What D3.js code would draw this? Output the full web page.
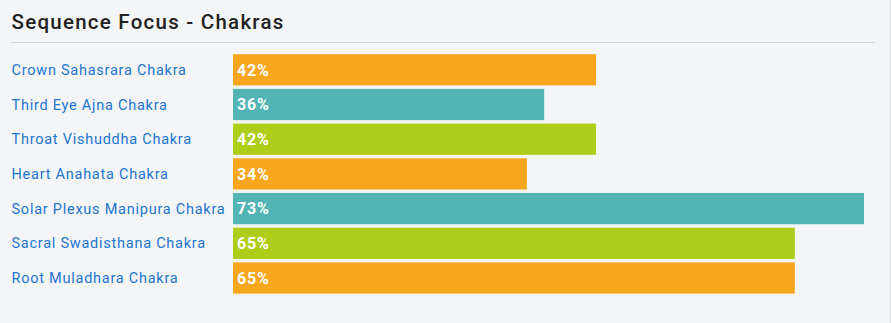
<!DOCTYPE html>
<html>
<head>
<meta charset="utf-8">
<script src="https://cdn.jsdelivr.net/npm/d3@7"></script>
<style>
  body { margin: 0; background: #f4f5f7; }
  svg { display: block; font-family: Roboto, "Open Sans", sans-serif; }
</style>
</head>
<body>
<div id="chart"></div>
<script>
// Chart data
const chakras = [
  'Crown Sahasrara Chakra',
  'Third Eye Ajna Chakra',
  'Throat Vishuddha Chakra',
  'Heart Anahata Chakra',
  'Solar Plexus Manipura Chakra',
  'Sacral Swadisthana Chakra',
  'Root Muladhara Chakra'
];
const percents = [42, 36, 42, 34, 73, 65, 65];
const barColors = ['#f9a61f', '#53b4b6', '#aecd19'];

const width = 891, height = 323;
const barLeft = 233, barRight = 864;

const svg = d3.select('#chart').append('svg')
  .attr('width', width)
  .attr('height', height);

// background + right border
svg.append('rect').attr('width', width).attr('height', height).attr('fill', '#f4f5f7');
svg.append('line')
  .attr('x1', 890.5).attr('x2', 890.5).attr('y1', 0).attr('y2', height)
  .attr('stroke', '#d6d8dc');

// title
svg.append('text')
  .attr('x', 11.5).attr('y', 29)
  .attr('font-size', 20.5).attr('font-weight', 500)
  .attr('fill', '#222')
  .style('letter-spacing', '1.25px')
  .text('Sequence Focus - Chakras');

svg.append('line')
  .attr('x1', 11).attr('x2', 875).attr('y1', 42.5).attr('y2', 42.5)
  .attr('stroke', '#d3d4d6');

const x = d3.scaleLinear()
  .domain([0, d3.max(percents)])
  .range([barLeft, barRight]);

const y = d3.scaleBand()
  .domain(chakras)
  .range([50.7, 297.1])
  .padding(0.1);

const rows = svg.selectAll('g.row')
  .data(chakras.map((c, i) => ({ name: c, value: percents[i], i })))
  .enter().append('g').attr('class', 'row');

rows.append('rect')
  .attr('x', x(0))
  .attr('y', d => y(d.name))
  .attr('width', d => x(d.value) - x(0))
  .attr('height', y.bandwidth())
  .attr('fill', d => barColors[d.i % 3]);

rows.append('text')
  .attr('x', 11.5)
  .attr('y', d => y(d.name) + y.bandwidth() / 2)
  .attr('dy', '0.35em')
  .attr('font-size', 14.5)
  .attr('fill', '#1d76cf')
  .style('letter-spacing', '0.75px')
  .text(d => d.name);

rows.append('text')
  .attr('x', x(0) + 4)
  .attr('y', d => y(d.name) + y.bandwidth() / 2)
  .attr('dy', '0.36em')
  .attr('font-size', 16)
  .attr('font-weight', 700)
  .attr('fill', '#fff')
  .style('letter-spacing', '0.8px')
  .text(d => d.value + '%');
</script>
</body>
</html>
